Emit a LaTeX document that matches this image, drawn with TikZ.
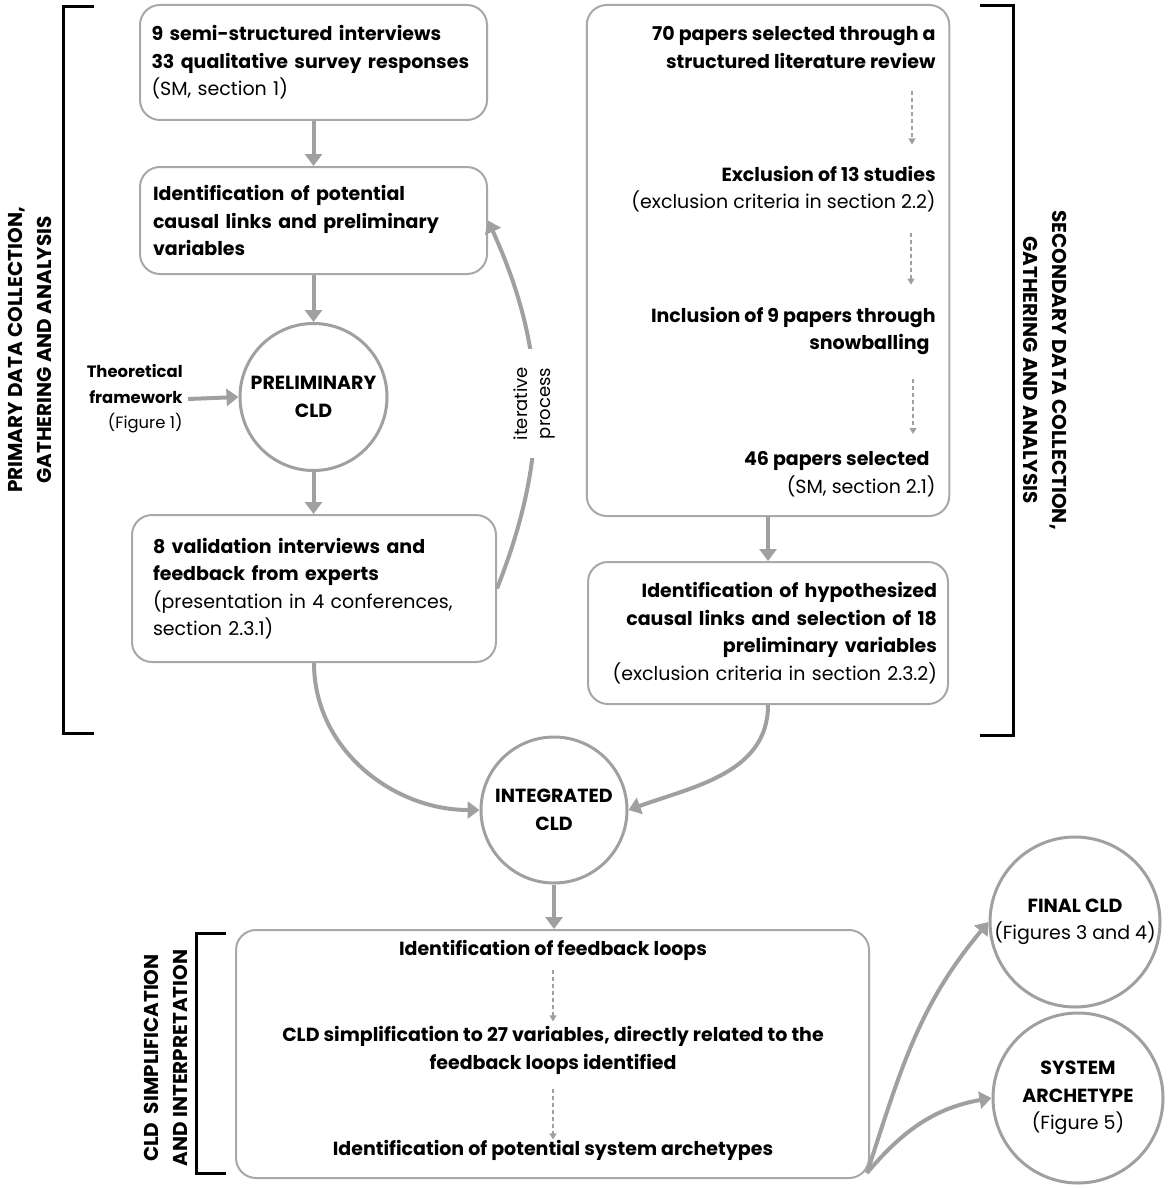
\documentclass[tikz,border=0pt]{standalone}
\usepackage{fontspec}
\setmainfont{Poppins}
\usetikzlibrary{arrows.meta}
\definecolor{linegray}{HTML}{A0A0A0}
\definecolor{boxgray}{HTML}{A8A8A8}

\begin{document}
\begin{tikzpicture}[x=0.5pt, y=-0.5pt,
		every node/.style={font=\fontsize{9.5}{13.75}\selectfont\bfseries, inner sep=0pt},
		box/.style={draw=boxgray, line width=1pt, rounded corners=10pt},
		circ/.style={circle, draw=linegray, line width=1.5pt, align=center},
		flow/.style={linegray, line width=2pt, -{Triangle[width=8.5pt,length=6pt]}},
		dashflow/.style={linegray, line width=0.6pt, dash pattern=on 2pt off 1.5pt, -{Triangle[width=3.5pt,length=3pt]}},
		brk/.style={black, line width=1.5pt},
		side/.style={align=center, font=\fontsize{10}{14.5}\selectfont\bfseries}]
		
		\useasboundingbox (0,0) rectangle (1169,1188);
		
		% primary data
		\node[box, minimum width=173.5pt, minimum height=57.5pt, text width=162pt, align=left] (A) at (313.5,62.5) {9 semi-structured interviews\\33 qualitative survey responses\\\textmd{(SM, section 1)}};
		\node[box, minimum width=173.5pt, minimum height=53.5pt, text width=160.5pt, align=left] (B) at (313.5,220.5) {Identification of potential\\causal links and preliminary\\variables};
		\node[circ, minimum size=73.5pt] (C) at (313.5,397) {PRELIMINARY\\CLD};
		\node[anchor=east, inner xsep=2.5pt, align=right, font=\fontsize{8.2}{12.75}\selectfont\bfseries] (T) at (188,399) {Theoretical\\framework\\\textmd{(Figure 1)}};
		\node[box, minimum width=182pt, minimum height=73.5pt, text width=161pt, align=left] (D) at (314,588.5) {8 validation interviews and\\feedback from experts\\\textmd{(presentation in 4 conferences,}\\\textmd{section 2.3.1)}};
		
		\draw[flow] (A) -- (B);
		\draw[flow] (B) -- (C);
		\draw[flow] (C.south) -- (C.south |- D.north);
		\draw[flow] (T.east) -- (C.west);
		\draw[flow] (D.east) to[bend right=23] node[rotate=90, fill=white, text=black, inner xsep=9pt, inner ysep=1pt, align=center, font=\fontsize{9}{11.5}\selectfont\mdseries] {iterative\\process} (B.east);
		
		% secondary data
		\node[box, minimum width=181.25pt, minimum height=255.5pt] (E) at (768,260.5) {};
		\node[anchor=east, align=right] (E1) at (936,47.5) {70 papers selected through a\\structured literature review};
		\node[anchor=east, align=right] (E2) at (936,189) {Exclusion of 13 studies\\\textmd{(exclusion criteria in section 2.2)}};
		\node[anchor=east, align=right] (E3) at (936,331) {Inclusion of 9 papers through\\snowballing\hspace*{3pt}};
		\node[anchor=east, align=right] (E4) at (936,474) {46 papers selected\hspace*{3pt}\\\textmd{(SM, section 2.1)}};
		\node[box, minimum width=180pt, minimum height=71pt, text width=169pt, align=right] (F) at (768,633) {Identification of hypothesized\\causal links and selection of 18\\preliminary variables\hspace*{5pt}\\\textmd{(exclusion criteria in section 2.3.2)}};
		
		\draw[dashflow] ([xshift=-12pt,yshift=-11pt]E1.south east) -- ([xshift=-12pt,yshift=10.5pt]E2.north east);
		\draw[dashflow] ([xshift=-12.5pt,yshift=-10pt]E2.south east) -- ([xshift=-12.5pt,yshift=11pt]E3.north east);
		\draw[dashflow] ([xshift=-11.5pt,yshift=-12pt]E3.south east) -- ([xshift=-11.5pt,yshift=8.5pt]E4.north east);
		\draw[flow] (E) -- (F);
		
		% integration
		\node[circ, minimum size=73pt] (G) at (554,810) {INTEGRATED\\CLD};
		\draw[flow] (D.south) to[out=-90, in=180] (G.west);
		\draw[flow] (F.south) to[out=-90, in=20] (G.east);
		
		% simplification
		\node[box, minimum width=316.5pt, minimum height=124pt] (H) at (552.5,1054) {};
		\node (H1) at (553,950) {Identification of feedback loops};
		\node[align=center] (H2) at (553,1050.5) {CLD simplification to 27 variables, directly related to the\\feedback loops identified};
		\node (H3) at (553,1150) {Identification of potential system archetypes};
		\draw[dashflow] ([yshift=-4.5pt]H1.south) -- ([yshift=2.4pt]H2.north);
		\draw[dashflow] ([yshift=-7pt]H2.south) -- (H3.north);
		\draw[flow] (G.south) -- (G.south |- H.north);
		
		\node[circ, minimum size=85pt] (I) at (1075,922) {FINAL CLD\\\textmd{(Figures 3 and 4)}};
		\node[circ, minimum size=85pt] (J) at (1078,1098) {SYSTEM\\ARCHETYPE\\\textmd{(Figure 5)}};
		\draw[flow] ([xshift=-1.5pt,yshift=3pt]H.south east) to[out=72, in=-130] (I.west);
		\draw[flow] ([xshift=-1.5pt,yshift=3pt]H.south east) to[out=50, in=190] (J.west);
		
		% brackets
		\draw[brk] (94,7) -- (63,7) -- (63,733) -- (94,733);
		\node[side, rotate=90] (P) at (30,350) {PRIMARY DATA COLLECTION,\\GATHERING AND ANALYSIS};
		\draw[brk] (980,6) -- (1013,6) -- (1013,735) -- (980,735);
		\node[side, rotate=-90] (S) at (1045,370) {SECONDARY DATA COLLECTION,\\GATHERING AND ANALYSIS};
		\draw[brk] (226,933) -- (196,933) -- (196,1173) -- (226,1173);
		\node[side, rotate=90] (L) at (166,1058) {CLD\ \ SIMPLIFICATION\\AND INTERPRETATION};
		
	\end{tikzpicture}
\end{document}
